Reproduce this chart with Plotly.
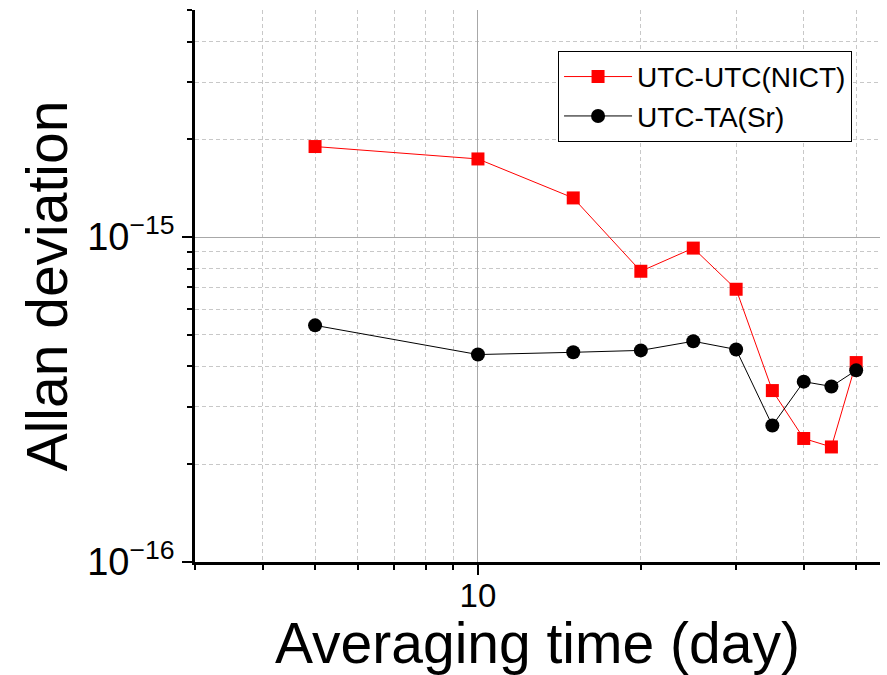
import plotly.graph_objects as go

# Averaging time (days) and Allan deviations for the two comparisons
tau_days = [5, 10, 15, 20, 25, 30, 35, 40, 45, 50]
adev_utc_nict = [1.90e-15, 1.74e-15, 1.32e-15, 7.85e-16, 9.25e-16,
                 6.91e-16, 3.37e-16, 2.40e-16, 2.26e-16, 4.11e-16]
adev_ta_sr = [5.35e-16, 4.35e-16, 4.42e-16, 4.48e-16, 4.78e-16,
              4.51e-16, 2.63e-16, 3.59e-16, 3.47e-16, 3.89e-16]

x_major = [10]
x_major_text = ["10"]
x_minor = [3, 4, 5, 6, 7, 8, 9, 20, 30, 40, 50]
y_major = [1e-16, 1e-15]
y_major_text = ["10<sup>\u221216</sup>", "10<sup>\u221215</sup>"]
y_minor = [k * 1e-16 for k in range(2, 10)] + [k * 1e-15 for k in range(2, 6)]

FONT = "Liberation Sans, Arial, sans-serif"

fig = go.Figure()
fig.add_trace(go.Scatter(
    x=tau_days, y=adev_utc_nict, mode="lines+markers", name="UTC-UTC(NICT)",
    line=dict(color="#ff0000", width=1),
    marker=dict(symbol="square", size=13, color="#ff0000"),
))
fig.add_trace(go.Scatter(
    x=tau_days, y=adev_ta_sr, mode="lines+markers", name="UTC-TA(Sr)",
    line=dict(color="#000000", width=1),
    marker=dict(symbol="circle", size=14, color="#000000"),
))

fig.update_layout(
    width=887, height=675,
    margin=dict(l=195, r=7, t=10, b=113),
    paper_bgcolor="white", plot_bgcolor="white",
    font=dict(family=FONT, color="black"),
    showlegend=True,
    legend=dict(
        x=0.53, y=0.926, xanchor="left", yanchor="top",
        bordercolor="black", borderwidth=1, bgcolor="white",
        font=dict(size=28, family=FONT), tracegroupgap=0,
        itemwidth=68,
    ),
    xaxis=dict(
        type="log", range=[0.4771, 1.743],
        tickmode="array", tickvals=x_major, ticktext=x_major_text,
        tickfont=dict(size=33), ticks="outside", ticklen=10, tickwidth=2,
        tickcolor="black", ticklabelstandoff=-7,
        showline=True, linecolor="black", linewidth=2.5,
        showgrid=True, gridcolor="#a8a8a8", gridwidth=1,
        zeroline=False,
        minor=dict(tickmode="array", tickvals=x_minor, ticks="outside",
                   ticklen=5, tickwidth=2, tickcolor="black",
                   showgrid=True, gridcolor="#c8c8c8", griddash="4px,3px",
                   gridwidth=1),
        title=dict(text="Averaging time (day)", font=dict(size=57),
                   standoff=14),
    ),
    yaxis=dict(
        type="log", range=[-16, -14.301],
        tickmode="array", tickvals=y_major, ticktext=y_major_text,
        tickfont=dict(size=38), ticks="outside", ticklen=10, tickwidth=2,
        tickcolor="black",
        showline=True, linecolor="black", linewidth=2.5,
        showgrid=True, gridcolor="#a8a8a8", gridwidth=1,
        zeroline=False,
        minor=dict(tickmode="array", tickvals=y_minor, ticks="outside",
                   ticklen=5, tickwidth=2, tickcolor="black",
                   showgrid=True, gridcolor="#c8c8c8", griddash="4px,3px",
                   gridwidth=1),
        title=dict(text="Allan deviation", font=dict(size=57), standoff=2),
    ),
)

fig.write_html("out.html")
